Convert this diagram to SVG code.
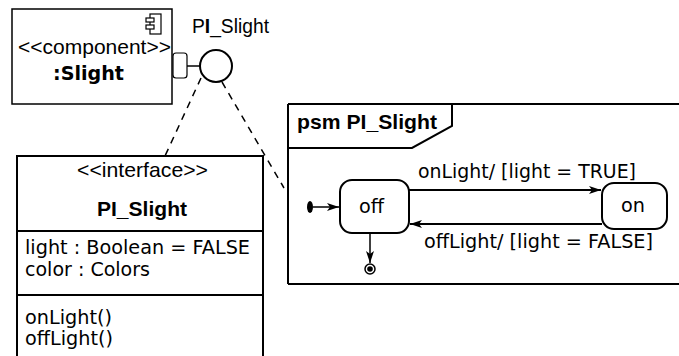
<svg xmlns="http://www.w3.org/2000/svg" width="679" height="356" viewBox="0 0 679 356">
<style>
.box{fill:#fff;stroke:#000;stroke-width:1.5}
.thick{fill:#fff;stroke:#000;stroke-width:2}
.ln{fill:none;stroke:#000;stroke-width:1.5}
.dash{fill:none;stroke:#000;stroke-width:1.5;stroke-dasharray:7,6}
.a{font-family:"Liberation Sans",Arial,sans-serif;font-size:21px;fill:#000}
.ab{font-family:"Liberation Sans",Arial,sans-serif;font-size:21px;font-weight:bold;fill:#000}
.d{font-family:"DejaVu Sans",sans-serif;font-size:19px;fill:#000}
.db{font-family:"DejaVu Sans",sans-serif;font-size:19px;font-weight:bold;fill:#000}
</style>
<defs>
<marker id="arr" viewBox="0 0 12 8" refX="12" refY="4" markerWidth="12" markerHeight="8" markerUnits="userSpaceOnUse" orient="auto">
<path d="M0,0 L12,4 L0,8 L3,4 z" fill="#000"/>
</marker>
</defs>
<rect width="679" height="356" fill="#fff"/>

<g id="component">
<rect class="box" x="12" y="9" width="160" height="95"/>
<rect x="150" y="14" width="11" height="20" fill="#fff" stroke="#000" stroke-width="1.2"/>
<rect x="146" y="18" width="8" height="4" fill="#fff" stroke="#000" stroke-width="1.2"/>
<rect x="146" y="25" width="8" height="4" fill="#fff" stroke="#000" stroke-width="1.2"/>
<text class="a" x="18" y="54" textLength="153" lengthAdjust="spacingAndGlyphs">&lt;&lt;component&gt;&gt;</text>
<text class="db" x="53" y="80" textLength="71" lengthAdjust="spacingAndGlyphs">:Slight</text>
<rect x="173" y="53" width="14" height="25" rx="3" fill="#fff" stroke="#000" stroke-width="1.2"/>
</g>

<g id="lollipop">
<line class="ln" x1="187" y1="66" x2="200" y2="66"/>
<circle cx="216" cy="66" r="16" fill="#fff" stroke="#000" stroke-width="2"/>
<text class="a" x="192" y="33" style="font-size:19.5px" textLength="77" lengthAdjust="spacingAndGlyphs">P<tspan font-weight="bold">I</tspan>_Slight</text>
</g>

<g id="interface">
<rect class="thick" x="17" y="156" width="246" height="210"/>
<line class="ln" x1="17" y1="231" x2="263" y2="231" style="stroke-width:2"/>
<line class="ln" x1="17" y1="295" x2="263" y2="295" style="stroke-width:2"/>
<text class="a" x="77" y="177" textLength="131" lengthAdjust="spacingAndGlyphs">&lt;&lt;interface&gt;&gt;</text>
<text class="ab" x="97" y="216" textLength="90" lengthAdjust="spacingAndGlyphs">PI_Slight</text>
<text class="d" x="25" y="254" textLength="225" lengthAdjust="spacingAndGlyphs">light : Boolean = FALSE</text>
<text class="d" x="25" y="276" textLength="125" lengthAdjust="spacingAndGlyphs">color : Colors</text>
<text class="d" x="25" y="324" textLength="87" lengthAdjust="spacingAndGlyphs">onLight()</text>
<text class="d" x="25" y="345" textLength="88" lengthAdjust="spacingAndGlyphs">offLight()</text>
</g>

<g id="psm">
<path class="thick" d="M288,104 H690 M288,284 H690 M288,104 V284"/>
<path class="ln" d="M288,148 H412 L452,126 V104" style="stroke-width:2"/>
<text class="ab" x="297" y="129" textLength="140" lengthAdjust="spacingAndGlyphs">psm PI_Slight</text>
</g>

<g id="initial">
<ellipse cx="310" cy="207" rx="3" ry="6" fill="#000"/>
</g>

<g id="state-off">
<rect class="thick" x="340" y="180" width="69" height="53" rx="12"/>
<text class="d" x="359" y="213" textLength="25" lengthAdjust="spacingAndGlyphs">off</text>
</g>

<g id="state-on">
<rect class="thick" x="602" y="183" width="65" height="46" rx="12"/>
<text class="d" x="621" y="212" textLength="24" lengthAdjust="spacingAndGlyphs">on</text>
</g>

<g id="final">
<circle cx="370" cy="269" r="5" fill="#fff" stroke="#000" stroke-width="1.5"/>
<circle cx="370" cy="269" r="2.8" fill="#000"/>
</g>

<g id="connectors">
<path class="dash" d="M201,78 L165,156"/>
<path class="dash" d="M222,82 L284,188"/>
<line class="ln" x1="313" y1="207" x2="339" y2="207" marker-end="url(#arr)"/>
<line class="ln" x1="409" y1="190" x2="601" y2="190" style="stroke-width:2" marker-end="url(#arr)"/>
<line class="ln" x1="602" y1="224" x2="410" y2="224" style="stroke-width:2" marker-end="url(#arr)"/>
<line class="ln" x1="370" y1="233" x2="370" y2="263" marker-end="url(#arr)"/>
<text class="d" x="418" y="178" textLength="218" lengthAdjust="spacingAndGlyphs">onLight/ [light = TRUE]</text>
<text class="d" x="424" y="248" textLength="229" lengthAdjust="spacingAndGlyphs">offLight/ [light = FALSE]</text>
</g>
</svg>
